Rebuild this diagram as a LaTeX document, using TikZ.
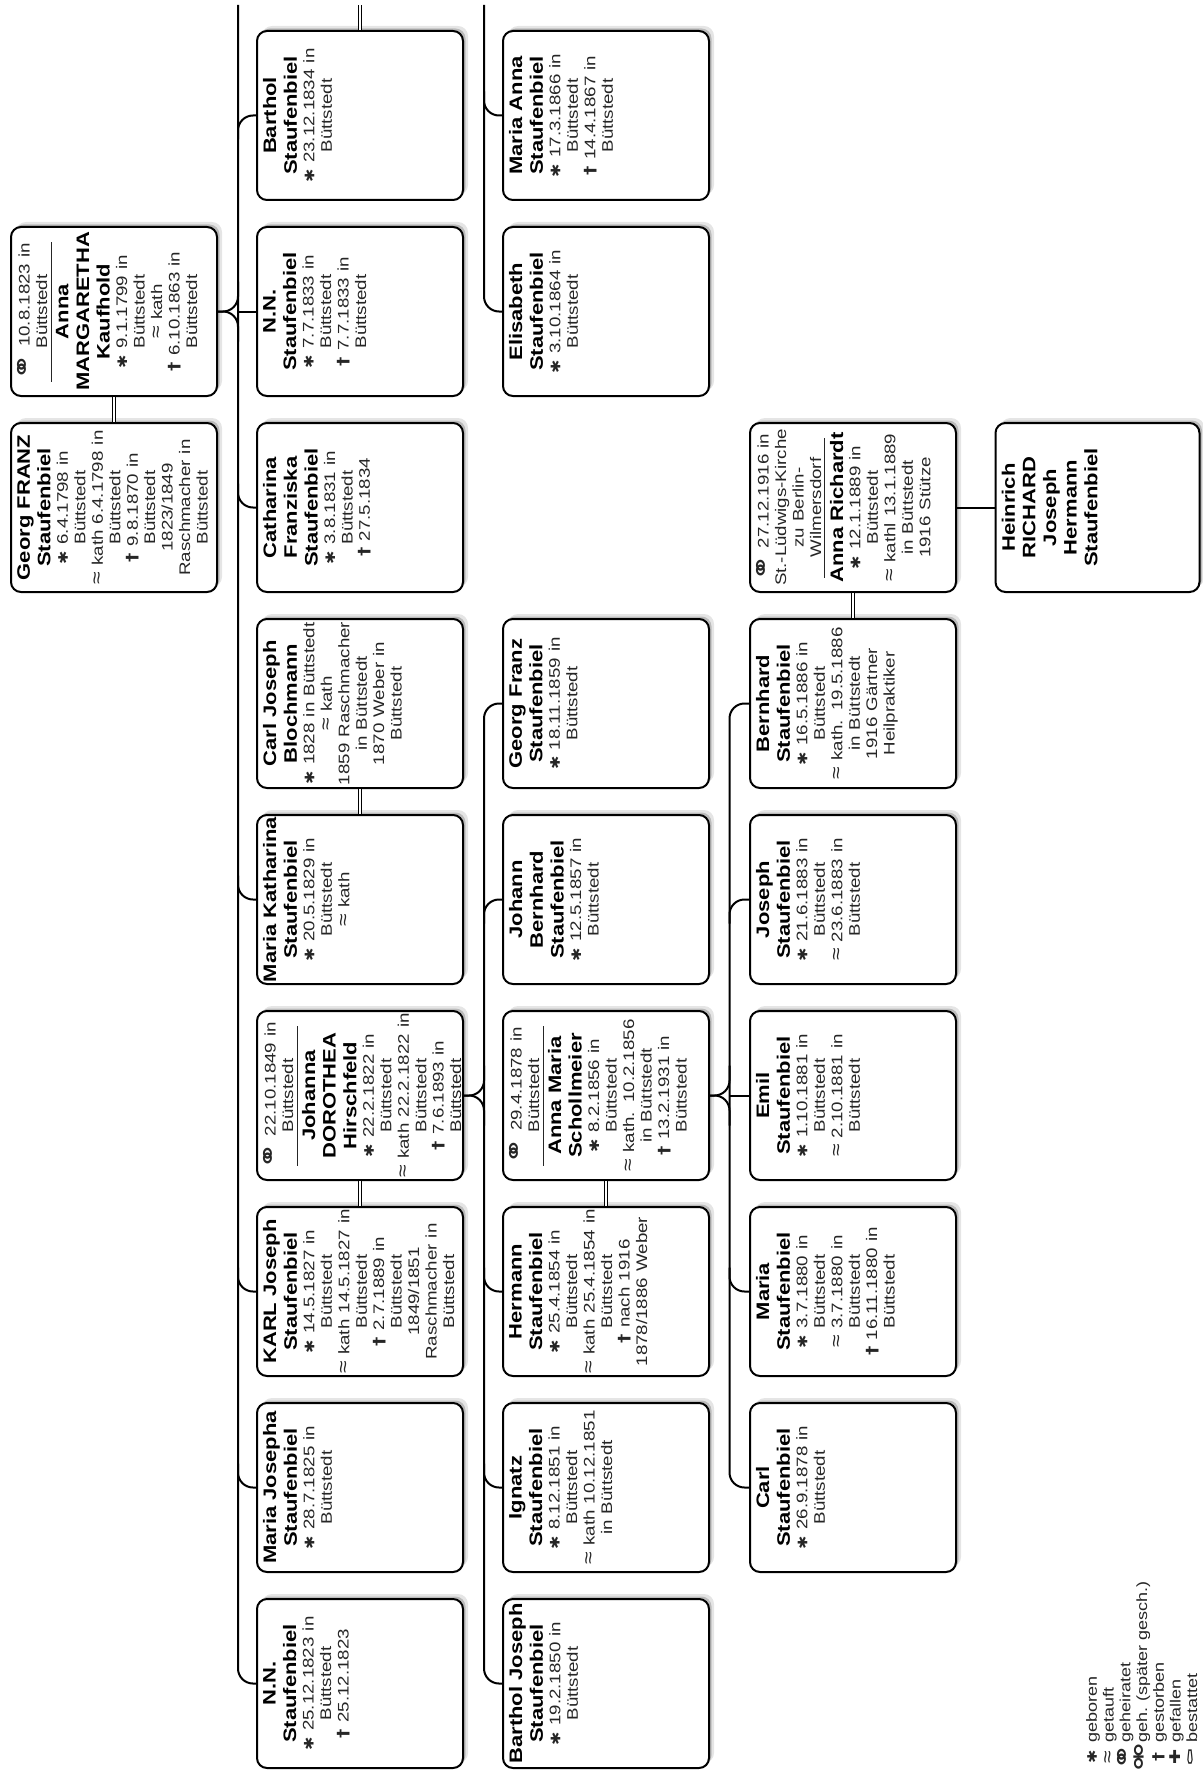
\documentclass[tikz,border=0pt]{standalone}
\usepackage{fontspec}
\setmainfont{Liberation Sans}
\newfontfamily\symf{DejaVu Sans}
\usetikzlibrary{calc,shadows}
\newcommand\bodyf{\fontsize{18.7}{21.3}\selectfont}
\newcommand\namef{\fontsize{22}{25.2}\selectfont\bfseries\color{black}}
\newcommand\nm[1]{{\namef #1\par}}
\newcommand\sBir{{\symf\fontsize{16}{16}\selectfont ✱}}
\newcommand\sBap{{\fontsize{23}{23}\selectfont ≈}}
\newcommand\sMar{\raisebox{-2pt}{\symf\fontsize{32}{32}\selectfont ⚭}}
\newcommand\sDiv{\raisebox{-2pt}{\symf\fontsize{32}{32}\selectfont ⚮}}
\newcommand\sDea{{\symf\bfseries †}}
\newcommand\sFal{{\symf ✚}}
\newcommand\sBur{{\symf\fontsize{22}{22}\selectfont ⚰}}
\newcommand\mrule{\par\nointerlineskip\vspace{4pt}\hbox to\linewidth{\hss\rule{140pt}{1.2pt}\hss}\nointerlineskip\vspace{5.5pt}}
\newcommand\lsym[1]{\makebox[22pt][c]{#1}}
\tikzset{
  box/.style={draw, line width=2pt, rounded corners=10pt, fill=white,
    minimum width=206pt, minimum height=169pt, inner sep=0pt,
    drop shadow={shadow xshift=5pt, shadow yshift=5pt, opacity=.10, fill=black},
    drop shadow={shadow xshift=2.5pt, shadow yshift=2.5pt, opacity=.18, fill=black}},
  txt/.style={rotate=90, yscale=0.82, anchor=north, inner sep=0pt,
    text width=184pt, align=center, font=\bodyf, text=black!85},
  legend/.style={rotate=90, yscale=0.82, anchor=north west, inner sep=0pt,
    align=left, font=\fontsize{18}{20.4}\selectfont, text=black!85},
  conn/.style={line width=2pt, rounded corners=15pt},
  marr/.style={draw=black, double=white, double distance=1.8pt, line width=1.4pt}
}
\begin{document}
\begin{tikzpicture}[x=1pt,y=1pt]
\useasboundingbox (0,0) rectangle (1202,-1771);
\fill[white] (0,0) rectangle (1202,-1771);
% column line coordinates
\coordinate (c2) at (238,-5);
\coordinate (c3) at (484,-5);
\coordinate (c4) at (729.5,-5);
\coordinate (bsp) at (360,-5);
% generation 1
\node[box] (annam) at (114,-311.5) {};
\node[box] (georg) at (114,-507.5) {};
% generation 2
\node[box] (barthol) at (360,-115.5) {};
\node[box] (nn33) at (360,-311.5) {};
\node[box] (cath) at (360,-507.5) {};
\node[box] (cjb) at (360,-703.5) {};
\node[box] (mariak) at (360,-899.5) {};
\node[box] (doro) at (360,-1095.5) {};
\node[box] (karl) at (360,-1291.5) {};
\node[box] (mariaj) at (360,-1487.5) {};
\node[box] (nn23) at (360,-1683.5) {};
% generation 3
\node[box] (manna) at (606,-115.5) {};
\node[box] (elis) at (606,-311.5) {};
\node[box] (gfranz) at (606,-703.5) {};
\node[box] (jbern) at (606,-899.5) {};
\node[box] (scholl) at (606,-1095.5) {};
\node[box] (herm) at (606,-1291.5) {};
\node[box] (ign) at (606,-1487.5) {};
\node[box] (bjos) at (606,-1683.5) {};
% generation 4
\node[box] (annar) at (853,-507.5) {};
\node[box] (bernh) at (853,-703.5) {};
\node[box] (joseph) at (853,-899.5) {};
\node[box] (emil) at (853,-1095.5) {};
\node[box] (maria) at (853,-1291.5) {};
\node[box] (carl) at (853,-1487.5) {};
% generation 5
\node[box, minimum width=204pt] (heinrich) at (1097.5,-507.5) {};

% texts
\node[txt] (annam-t) at ([xshift=7pt]annam.west) {\sMar~10.8.1823 in\\Büttstedt\mrule\nm{Anna\\MARGARETHA\\Kaufhold}\sBir~9.1.1799 in\\Büttstedt\\\sBap~kath\\\sDea~6.10.1863 in\\Büttstedt};
\node[txt] (georg-t) at ([xshift=7pt]georg.west) {\nm{Georg FRANZ\\Staufenbiel}\sBir~6.4.1798 in\\Büttstedt\\\sBap~kath 6.4.1798 in\\Büttstedt\\\sDea~9.8.1870 in\\Büttstedt\\1823/1849\\Raschmacher in\\Büttstedt};
\node[txt] (barthol-t) at ([xshift=7pt]barthol.west) {\nm{Barthol\\Staufenbiel}\sBir~23.12.1834 in\\Büttstedt};
\node[txt] (nn33-t) at ([xshift=7pt]nn33.west) {\nm{N.N.\\Staufenbiel}\sBir~7.7.1833 in\\Büttstedt\\\sDea~7.7.1833 in\\Büttstedt};
\node[txt] (cath-t) at ([xshift=7pt]cath.west) {\nm{Catharina\\Franziska\\Staufenbiel}\sBir~3.8.1831 in\\Büttstedt\\\sDea~27.5.1834};
\node[txt] (cjb-t) at ([xshift=7pt]cjb.west) {\nm{Carl Joseph\\Blochmann}\sBir~1828 in Büttstedt\\\sBap~kath\\1859 Raschmacher\\in Büttstedt\\1870 Weber in\\Büttstedt};
\node[txt] (mariak-t) at ([xshift=7pt]mariak.west) {\nm{Maria Katharina\\Staufenbiel}\sBir~20.5.1829 in\\Büttstedt\\\sBap~kath};
\node[txt] (doro-t) at ([xshift=7pt]doro.west) {\sMar~22.10.1849 in\\Büttstedt\mrule\nm{Johanna\\DOROTHEA\\Hirschfeld}\sBir~22.2.1822 in\\Büttstedt\\\sBap~kath 22.2.1822 in\\Büttstedt\\\sDea~7.6.1893 in\\Büttstedt};
\node[txt] (karl-t) at ([xshift=7pt]karl.west) {\nm{KARL Joseph\\Staufenbiel}\sBir~14.5.1827 in\\Büttstedt\\\sBap~kath 14.5.1827 in\\Büttstedt\\\sDea~2.7.1889 in\\Büttstedt\\1849/1851\\Raschmacher in\\Büttstedt};
\node[txt] (mariaj-t) at ([xshift=7pt]mariaj.west) {\nm{Maria Josepha\\Staufenbiel}\sBir~28.7.1825 in\\Büttstedt};
\node[txt] (nn23-t) at ([xshift=7pt]nn23.west) {\nm{N.N.\\Staufenbiel}\sBir~25.12.1823 in\\Büttstedt\\\sDea~25.12.1823};
\node[txt] (manna-t) at ([xshift=7pt]manna.west) {\nm{Maria Anna\\Staufenbiel}\sBir~17.3.1866 in\\Büttstedt\\\sDea~14.4.1867 in\\Büttstedt};
\node[txt] (elis-t) at ([xshift=7pt]elis.west) {\nm{Elisabeth\\Staufenbiel}\sBir~3.10.1864 in\\Büttstedt};
\node[txt] (gfranz-t) at ([xshift=7pt]gfranz.west) {\nm{Georg Franz\\Staufenbiel}\sBir~18.11.1859 in\\Büttstedt};
\node[txt] (jbern-t) at ([xshift=7pt]jbern.west) {\nm{Johann\\Bernhard\\Staufenbiel}\sBir~12.5.1857 in\\Büttstedt};
\node[txt] (scholl-t) at ([xshift=7pt]scholl.west) {\sMar~29.4.1878 in\\Büttstedt\mrule\nm{Anna Maria\\Schollmeier}\sBir~8.2.1856 in\\Büttstedt\\\sBap~kath. 10.2.1856\\in Büttstedt\\\sDea~13.2.1931 in\\Büttstedt};
\node[txt] (herm-t) at ([xshift=7pt]herm.west) {\nm{Hermann\\Staufenbiel}\sBir~25.4.1854 in\\Büttstedt\\\sBap~kath 25.4.1854 in\\Büttstedt\\\sDea~nach 1916\\1878/1886 Weber};
\node[txt] (ign-t) at ([xshift=7pt]ign.west) {\nm{Ignatz\\Staufenbiel}\sBir~8.12.1851 in\\Büttstedt\\\sBap~kath 10.12.1851\\in Büttstedt};
\node[txt] (bjos-t) at ([xshift=7pt]bjos.west) {\nm{Barthol Joseph\\Staufenbiel}\sBir~19.2.1850 in\\Büttstedt};
\node[txt] (annar-t) at ([xshift=7pt]annar.west) {\sMar~27.12.1916 in\\St.-Lüdwigs-Kirche\\zu Berlin-\\Wilmersdorf\mrule\nm{Anna Richardt}\sBir~12.1.1889 in\\Büttstedt\\\sBap~kathl 13.1.1889\\in Büttstedt\\1916 Stütze};
\node[txt] (bernh-t) at ([xshift=7pt]bernh.west) {\nm{Bernhard\\Staufenbiel}\sBir~16.5.1886 in\\Büttstedt\\\sBap~kath. 19.5.1886\\in Büttstedt\\1916 Gärtner\\Heilpraktiker};
\node[txt] (joseph-t) at ([xshift=7pt]joseph.west) {\nm{Joseph\\Staufenbiel}\sBir~21.6.1883 in\\Büttstedt\\\sBap~23.6.1883 in\\Büttstedt};
\node[txt] (emil-t) at ([xshift=7pt]emil.west) {\nm{Emil\\Staufenbiel}\sBir~1.10.1881 in\\Büttstedt\\\sBap~2.10.1881 in\\Büttstedt};
\node[txt] (maria-t) at ([xshift=7pt]maria.west) {\nm{Maria\\Staufenbiel}\sBir~3.7.1880 in\\Büttstedt\\\sBap~3.7.1880 in\\Büttstedt\\\sDea~16.11.1880 in\\Büttstedt};
\node[txt] (carl-t) at ([xshift=7pt]carl.west) {\nm{Carl\\Staufenbiel}\sBir~26.9.1878 in\\Büttstedt};
\node[txt] (heinrich-t) at ([xshift=7pt]heinrich.west) {\nm{Heinrich\\RICHARD\\Joseph\\Hermann\\Staufenbiel}};

% legend
\node[legend] (leg) at (1086,-1768) {\lsym{\sBir}\hspace{3pt}geboren\\\lsym{\sBap}\hspace{3pt}getauft\\\lsym{\sMar}\hspace{3pt}geheiratet\\\lsym{\sDiv}\hspace{3pt}geh. (später gesch.)\\\lsym{\sDea}\hspace{3pt}gestorben\\\lsym{\sFal}\hspace{3pt}gefallen\\\lsym{\sBur}\hspace{3pt}bestattet};

% marriages
\draw[marr] (annam.south) -- (georg.north);
\draw[marr] (cjb.south) -- (mariak.north);
\draw[marr] (doro.south) -- (karl.north);
\draw[marr] (scholl.south) -- (herm.north);
\draw[marr] (annar.south) -- (bernh.north);
\draw[marr] (barthol.north) -- (bsp);

% generation 1 -> 2
\draw[conn] (c2) -- (nn23.west -| c2) -- (nn23.west);
\draw[conn] (annam.east) -- (annam.east -| c2) -- ($(annam.east -| c2)+(0,30)$);
\draw[conn] (annam.east) -- (annam.east -| c2) -- ($(annam.east -| c2)+(0,-30)$);
\draw[conn] (annam.east -| c2) -- (nn33.west);
\draw[conn] ($(barthol.west -| c2)+(0,-24)$) -- (barthol.west -| c2) -- (barthol.west);
\draw[conn] ($(cath.west -| c2)+(0,24)$) -- (cath.west -| c2) -- (cath.west);
\draw[conn] ($(mariak.west -| c2)+(0,24)$) -- (mariak.west -| c2) -- (mariak.west);
\draw[conn] ($(karl.west -| c2)+(0,24)$) -- (karl.west -| c2) -- (karl.west);
\draw[conn] ($(mariaj.west -| c2)+(0,24)$) -- (mariaj.west -| c2) -- (mariaj.west);

% generation 3, upper family
\draw[conn] (c3) -- (elis.west -| c3) -- (elis.west);
\draw[conn] ($(manna.west -| c3)+(0,24)$) -- (manna.west -| c3) -- (manna.west);

% Karl + Dorothea -> generation 3
\draw[conn] (gfranz.west) -- (gfranz.west -| c3) -- (bjos.west -| c3) -- (bjos.west);
\draw[conn] (doro.east) -- (doro.east -| c3) -- ($(doro.east -| c3)+(0,30)$);
\draw[conn] (doro.east) -- (doro.east -| c3) -- ($(doro.east -| c3)+(0,-30)$);
\draw[conn] ($(jbern.west -| c3)+(0,-24)$) -- (jbern.west -| c3) -- (jbern.west);
\draw[conn] ($(herm.west -| c3)+(0,24)$) -- (herm.west -| c3) -- (herm.west);
\draw[conn] ($(ign.west -| c3)+(0,24)$) -- (ign.west -| c3) -- (ign.west);

% Hermann + Anna Maria -> generation 4
\draw[conn] (bernh.west) -- (bernh.west -| c4) -- (carl.west -| c4) -- (carl.west);
\draw[conn] (scholl.east) -- (scholl.east -| c4) -- ($(scholl.east -| c4)+(0,30)$);
\draw[conn] (scholl.east) -- (scholl.east -| c4) -- ($(scholl.east -| c4)+(0,-30)$);
\draw[conn] (scholl.east -| c4) -- (emil.west);
\draw[conn] ($(joseph.west -| c4)+(0,-24)$) -- (joseph.west -| c4) -- (joseph.west);
\draw[conn] ($(maria.west -| c4)+(0,24)$) -- (maria.west -| c4) -- (maria.west);

% Bernhard + Anna -> generation 5
\draw[conn] (annar.east) -- (heinrich.west);
\end{tikzpicture}
\end{document}
